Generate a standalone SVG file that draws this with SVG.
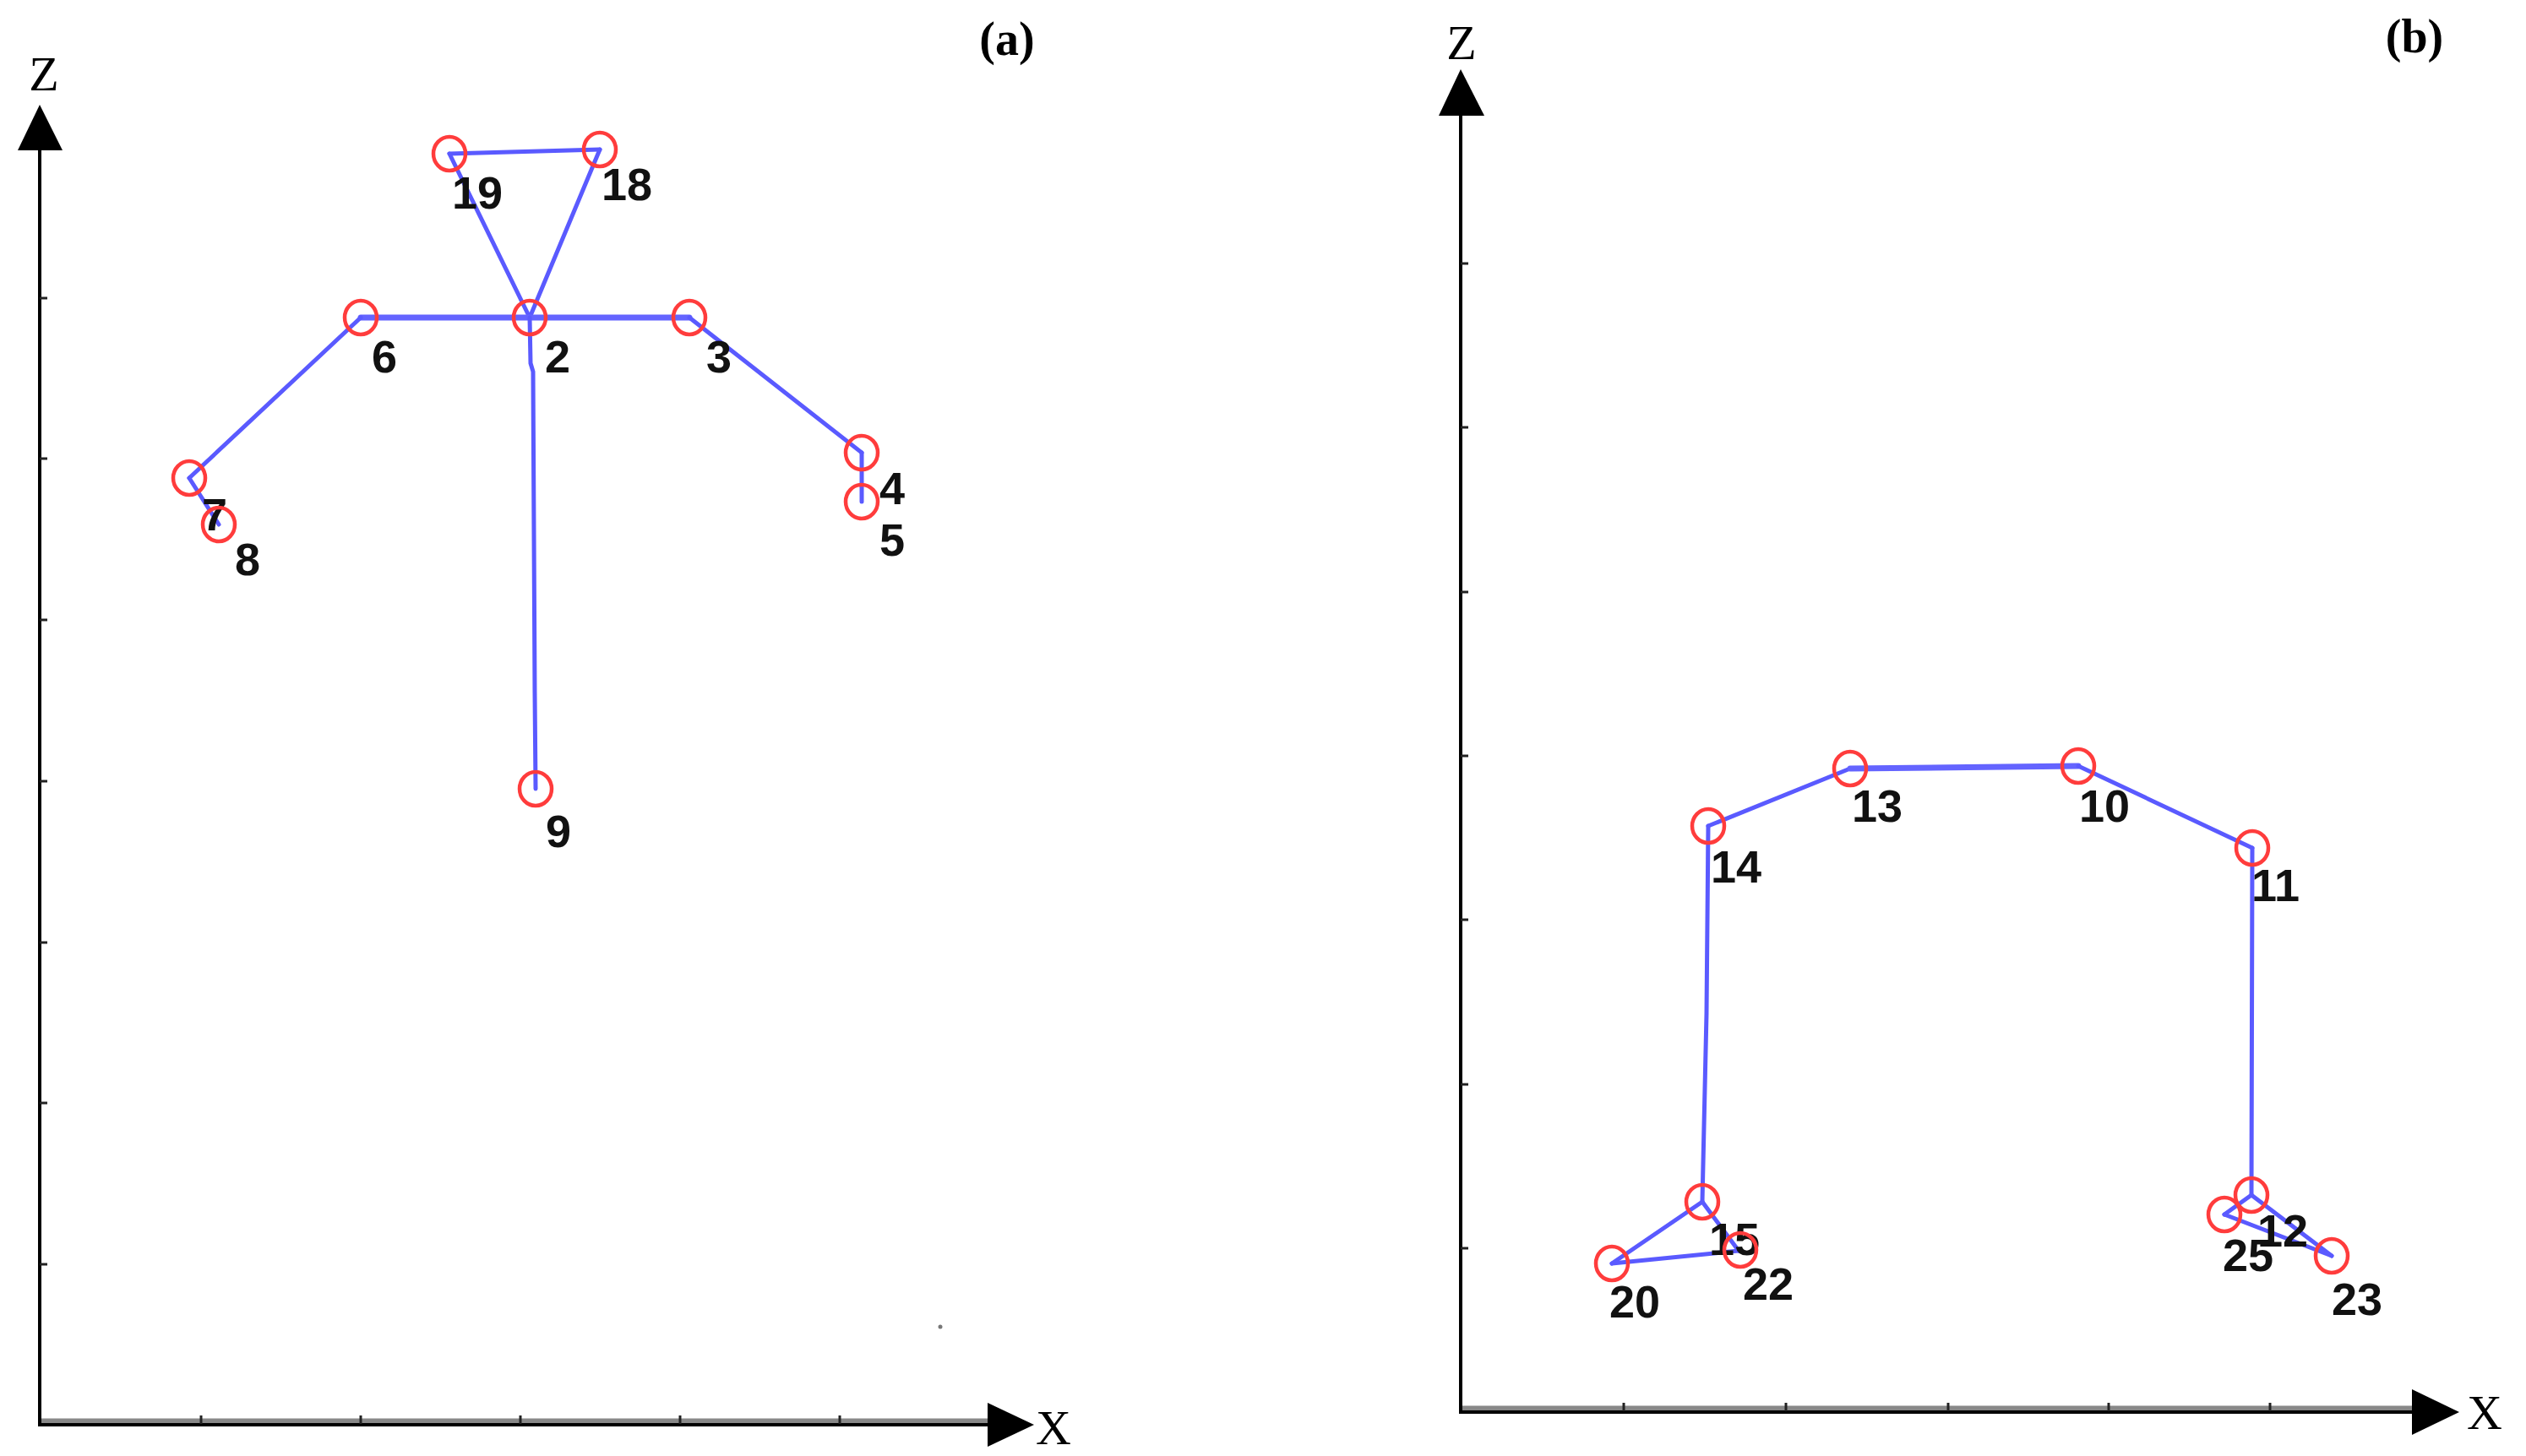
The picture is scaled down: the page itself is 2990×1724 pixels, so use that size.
<svg xmlns="http://www.w3.org/2000/svg" width="2990" height="1724" viewBox="0 0 2990 1724">
<style>
.axis{stroke:#000;stroke-width:4;fill:none}
.axis2{stroke:#888;stroke-width:9;fill:none}
.tick{stroke:#222;stroke-width:3}
.head{fill:#000}
.lbl{font-family:"Liberation Serif",serif;font-size:58px;fill:#000}
.tag{font-family:"Liberation Serif",serif;font-size:56px;font-weight:bold;fill:#000}
.bone{stroke:#5a5aff;stroke-width:5;fill:none;stroke-linecap:round}
.thick{stroke-width:7;stroke:#6464ff}
.jt{fill:none;stroke:#ff3c3c;stroke-width:4.5}
.num{font-family:"Liberation Sans",Arial,sans-serif;font-size:54px;font-weight:bold;fill:#111}
</style>
<rect width="2990" height="1724" fill="#fff"/>
<g id="axes-a">
<line class="axis2" x1="47" y1="1684" x2="1175" y2="1684"/>
<line class="axis" x1="47" y1="1687" x2="1175" y2="1687"/>
<line class="axis" x1="47" y1="175" x2="47" y2="1689"/>
<polygon class="head" points="47,124 21,178 74,178"/>
<polygon class="head" points="1224,1687 1169,1661 1169,1713"/>
<g class="tick">
<line x1="47" y1="353" x2="56" y2="353"/><line x1="47" y1="543" x2="56" y2="543"/><line x1="47" y1="734" x2="56" y2="734"/><line x1="47" y1="925" x2="56" y2="925"/><line x1="47" y1="1116" x2="56" y2="1116"/><line x1="47" y1="1306" x2="56" y2="1306"/><line x1="47" y1="1497" x2="56" y2="1497"/>
<line x1="238" y1="1686" x2="238" y2="1676"/><line x1="427" y1="1686" x2="427" y2="1676"/><line x1="616" y1="1686" x2="616" y2="1676"/><line x1="805" y1="1686" x2="805" y2="1676"/><line x1="994" y1="1686" x2="994" y2="1676"/>
</g>
<circle cx="1113" cy="1571" r="2.5" fill="#777"/>
<text class="lbl" x="52" y="107" text-anchor="middle">Z</text>
<text class="lbl" x="1247" y="1710" text-anchor="middle">X</text>
<text class="tag" x="1192" y="65" text-anchor="middle">(a)</text>
</g>
<g id="axes-b">
<line class="axis2" x1="1729" y1="1669" x2="2858" y2="1669"/>
<line class="axis" x1="1729" y1="1672" x2="2858" y2="1672"/>
<line class="axis" x1="1729" y1="134" x2="1729" y2="1674"/>
<polygon class="head" points="1729,82 1703,137 1757,137"/>
<polygon class="head" points="2911,1672 2855,1645 2855,1699"/>
<g class="tick">
<line x1="1729" y1="312" x2="1738" y2="312"/><line x1="1729" y1="506" x2="1738" y2="506"/><line x1="1729" y1="701" x2="1738" y2="701"/><line x1="1729" y1="895" x2="1738" y2="895"/><line x1="1729" y1="1089" x2="1738" y2="1089"/><line x1="1729" y1="1284" x2="1738" y2="1284"/><line x1="1729" y1="1478" x2="1738" y2="1478"/>
<line x1="1922" y1="1671" x2="1922" y2="1661"/><line x1="2114" y1="1671" x2="2114" y2="1661"/><line x1="2306" y1="1671" x2="2306" y2="1661"/><line x1="2496" y1="1671" x2="2496" y2="1661"/><line x1="2687" y1="1671" x2="2687" y2="1661"/>
</g>
<text class="lbl" x="1730" y="70" text-anchor="middle">Z</text>
<text class="lbl" x="2941" y="1692" text-anchor="middle">X</text>
<text class="tag" x="2858" y="62" text-anchor="middle">(b)</text>
</g>
<g id="connectors">
<line class="bone" x1="532" y1="182" x2="710" y2="177"/>
<line class="bone" x1="532" y1="182" x2="627" y2="376"/>
<line class="bone" x1="710" y1="177" x2="627" y2="376"/>
<line class="bone thick" x1="427" y1="376" x2="627" y2="376"/>
<line class="bone thick" x1="627" y1="376" x2="816" y2="376"/>
<line class="bone" x1="427" y1="376" x2="224" y2="566"/>
<line class="bone" x1="224" y1="566" x2="259" y2="621"/>
<line class="bone" x1="816" y1="376" x2="1020" y2="536"/>
<line class="bone" x1="1020" y1="536" x2="1020" y2="594"/>
<polyline class="bone" points="627,376 628,430 631,440 633,820 634,934"/>
<line class="bone" x1="2022" y1="978" x2="2190" y2="910"/>
<line class="bone thick" x1="2190" y1="910" x2="2460" y2="907"/>
<line class="bone" x1="2460" y1="907" x2="2666" y2="1004"/>
<polyline class="bone" points="2022,978 2020,1200 2015,1423"/>
<line class="bone" x1="2666" y1="1004" x2="2665" y2="1415"/>
<line class="bone" x1="2015" y1="1423" x2="1908" y2="1496"/>
<line class="bone" x1="1908" y1="1496" x2="2058" y2="1481"/>
<line class="bone" x1="2015" y1="1423" x2="2058" y2="1481"/>
<line class="bone" x1="2665" y1="1415" x2="2633" y2="1438"/>
<line class="bone" x1="2665" y1="1415" x2="2760" y2="1487"/>
<line class="bone" x1="2633" y1="1438" x2="2760" y2="1487"/>
</g>
<g id="n19"><ellipse class="jt" cx="532" cy="182" rx="19" ry="20"/><text class="num" x="535" y="247">19</text></g>
<g id="n18"><ellipse class="jt" cx="710" cy="177" rx="19" ry="20"/><text class="num" x="712" y="237">18</text></g>
<g id="n2"><ellipse class="jt" cx="627" cy="376" rx="19" ry="20"/><text class="num" x="645" y="441">2</text></g>
<g id="n6"><ellipse class="jt" cx="427" cy="376" rx="19" ry="20"/><text class="num" x="440" y="441">6</text></g>
<g id="n3"><ellipse class="jt" cx="816" cy="376" rx="19" ry="20"/><text class="num" x="836" y="441">3</text></g>
<g id="n4"><ellipse class="jt" cx="1020" cy="536" rx="19" ry="20"/><text class="num" x="1041" y="597">4</text></g>
<g id="n5"><ellipse class="jt" cx="1020" cy="594" rx="19" ry="20"/><text class="num" x="1041" y="658">5</text></g>
<g id="n7"><ellipse class="jt" cx="224" cy="566" rx="19" ry="20"/><text class="num" x="239" y="628">7</text></g>
<g id="n8"><ellipse class="jt" cx="259" cy="621" rx="19" ry="20"/><text class="num" x="278" y="681">8</text></g>
<g id="n9"><ellipse class="jt" cx="634" cy="934" rx="19" ry="20"/><text class="num" x="646" y="1003">9</text></g>
<g id="n13"><ellipse class="jt" cx="2190" cy="910" rx="19" ry="20"/><text class="num" x="2192" y="973">13</text></g>
<g id="n10"><ellipse class="jt" cx="2460" cy="907" rx="19" ry="20"/><text class="num" x="2461" y="973">10</text></g>
<g id="n14"><ellipse class="jt" cx="2022" cy="978" rx="19" ry="20"/><text class="num" x="2025" y="1045">14</text></g>
<g id="n11"><ellipse class="jt" cx="2666" cy="1004" rx="19" ry="20"/><text class="num" x="2665" y="1067">11</text></g>
<g id="n15"><ellipse class="jt" cx="2015" cy="1423" rx="19" ry="20"/><text class="num" x="2023" y="1486">15</text></g>
<g id="n20"><ellipse class="jt" cx="1908" cy="1496" rx="19" ry="20"/><text class="num" x="1905" y="1560">20</text></g>
<g id="n22"><ellipse class="jt" cx="2060" cy="1480" rx="19" ry="20"/><text class="num" x="2063" y="1539">22</text></g>
<g id="n12"><ellipse class="jt" cx="2665" cy="1415" rx="19" ry="20"/><text class="num" x="2672" y="1476">12</text></g>
<g id="n25"><ellipse class="jt" cx="2633" cy="1438" rx="19" ry="20"/><text class="num" x="2631" y="1505">25</text></g>
<g id="n23"><ellipse class="jt" cx="2760" cy="1487" rx="19" ry="20"/><text class="num" x="2760" y="1557">23</text></g>
</svg>
